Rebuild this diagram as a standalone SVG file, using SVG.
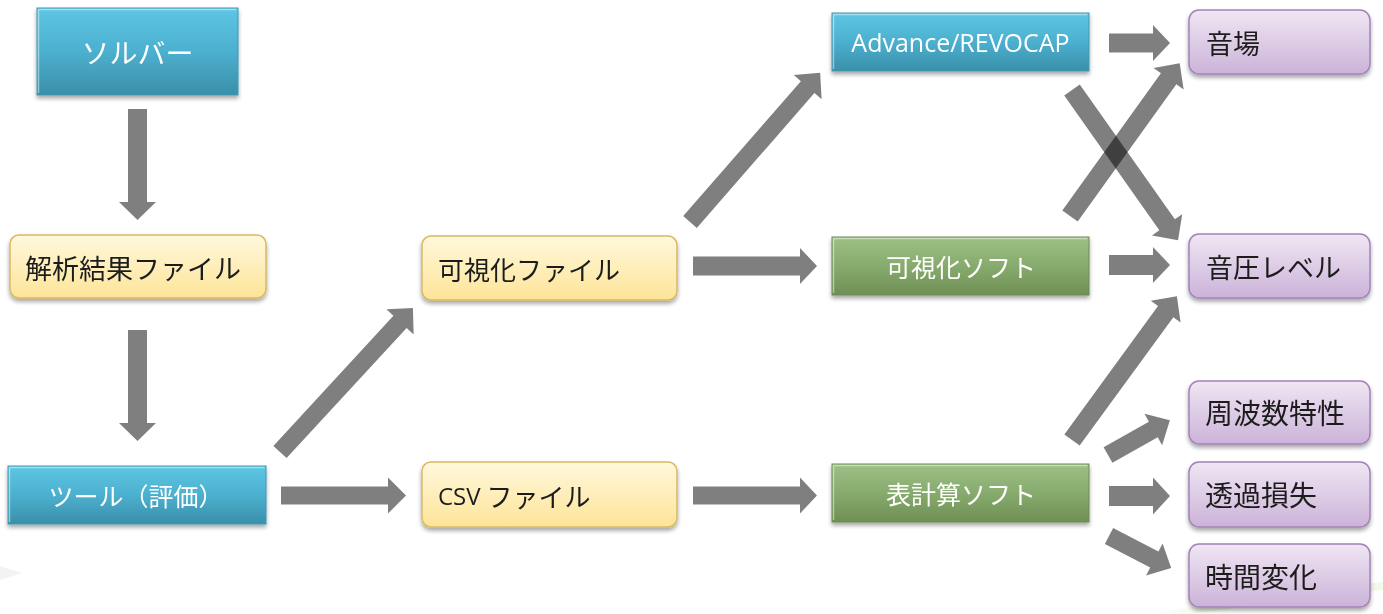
<svg xmlns="http://www.w3.org/2000/svg" width="1383" height="614" viewBox="0 0 1383 614">
<defs>
<linearGradient id="gBlue" x1="0" y1="0" x2="0" y2="1">
<stop offset="0" stop-color="#5dc6e3"/><stop offset="0.5" stop-color="#4cb0cf"/><stop offset="1" stop-color="#3a8fa9"/>
</linearGradient>
<linearGradient id="gGreen" x1="0" y1="0" x2="0" y2="1">
<stop offset="0" stop-color="#9dc185"/><stop offset="0.5" stop-color="#87ab6d"/><stop offset="1" stop-color="#6e8f55"/>
</linearGradient>
<linearGradient id="gYellow" x1="0" y1="0" x2="0" y2="1">
<stop offset="0" stop-color="#fff8dc"/><stop offset="1" stop-color="#fde498"/>
</linearGradient>
<linearGradient id="gPurple" x1="0" y1="0" x2="0" y2="1">
<stop offset="0" stop-color="#f0e6f3"/><stop offset="1" stop-color="#cbb3d9"/>
</linearGradient>
<linearGradient id="gSwoosh" x1="0" y1="0" x2="1" y2="0">
<stop offset="0" stop-color="#e6f4d8" stop-opacity="0"/><stop offset="0.5" stop-color="#dcefc9"/><stop offset="1" stop-color="#e8f5dc" stop-opacity="0.6"/>
</linearGradient>
<filter id="sh" x="-10%" y="-20%" width="120%" height="150%">
<feGaussianBlur in="SourceAlpha" stdDeviation="2"/>
<feOffset dx="0" dy="3" result="b"/>
<feComponentTransfer><feFuncA type="linear" slope="0.35"/></feComponentTransfer>
<feMerge><feMergeNode/><feMergeNode in="SourceGraphic"/></feMerge>
</filter>
</defs>
<style>
.blue{fill:url(#gBlue);stroke:#3f98b3;stroke-width:1}
.green{fill:url(#gGreen);stroke:#6a8c51;stroke-width:1}
.yellow{fill:url(#gYellow);stroke:#d8b964;stroke-width:1.5}
.purple{fill:url(#gPurple);stroke:#a283b8;stroke-width:1.5}
.hl{fill:none;stroke:#ffffff;stroke-opacity:0.45;stroke-width:1.5}
.tw{font-family:"Noto Sans CJK JP","Noto Sans",sans-serif;fill:#ffffff;text-anchor:middle;dominant-baseline:central}
.tk{font-family:"Noto Sans CJK JP","Noto Sans",sans-serif;fill:#1e1e1e;dominant-baseline:central}
.lat{font-family:"Open Sans","Noto Sans",sans-serif}
.arr{fill:#000000;fill-opacity:0.5}
</style>
<rect width="1383" height="614" fill="#ffffff"/>
<!-- faint background decoration -->
<path d="M0,566 L22,573 L0,580 Z" fill="#f3f3f3"/>
<path d="M1150,614 Q1260,596 1383,582 L1383,590 Q1270,603 1190,614 Z" fill="url(#gSwoosh)"/>

<g id="connectors">
<path class="arr" transform="translate(137.5,109) rotate(90)" d="M0,-9.5 H93 V-18.5 L111,0 L93,18.5 V9.5 H0 Z"/>
<path class="arr" transform="translate(137.5,330) rotate(90)" d="M0,-9.5 H93 V-18.5 L111,0 L93,18.5 V9.5 H0 Z"/>
<path class="arr" transform="translate(280,452) rotate(-47.3)" d="M0,-9 H177 V-18.5 L196,0 L177,18.5 V9 H0 Z"/>
<path class="arr" transform="translate(281,495.5)" d="M0,-9 H107 V-18 L125,0 L107,18 V9 H0 Z"/>
<path class="arr" transform="translate(693,266)" d="M0,-9.5 H107 V-18 L124,0 L107,18 V9.5 H0 Z"/>
<path class="arr" transform="translate(693,495.5)" d="M0,-9 H107 V-18 L124,0 L107,18 V9 H0 Z"/>
<path class="arr" transform="translate(690,222) rotate(-48.9)" d="M0,-9 H179 V-18.5 L198,0 L179,18.5 V9 H0 Z"/>
<path class="arr" transform="translate(1109,43)" d="M0,-9.5 H44 V-18 L61,0 L44,18 V9.5 H0 Z"/>
<path class="arr" transform="translate(1072,90) rotate(54.8)" d="M0,-9.5 H165 V-18.5 L184,0 L165,18.5 V9.5 H0 Z"/>
<path class="arr" transform="translate(1070,216) rotate(-54.3)" d="M0,-9.5 H169 V-18.5 L188,0 L169,18.5 V9.5 H0 Z"/>
<path class="arr" transform="translate(1109,265)" d="M0,-10 H44 V-18 L61,0 L44,18 V10 H0 Z"/>
<path class="arr" transform="translate(1072,440) rotate(-53.9)" d="M0,-9.5 H159 V-18.5 L178,0 L159,18.5 V9.5 H0 Z"/>
<path class="arr" transform="translate(1108,455) rotate(-29.4)" d="M0,-9 H52 V-18 L71,0 L52,18 V9 H0 Z"/>
<path class="arr" transform="translate(1109,496)" d="M0,-10 H44 V-18.5 L61,0 L44,18.5 V10 H0 Z"/>
<path class="arr" transform="translate(1109,536) rotate(27.3)" d="M0,-9 H51 V-18 L70,0 L51,18 V9 H0 Z"/>
</g>

<g id="n-solver" filter="url(#sh)">
<rect class="blue" x="37" y="8" width="201" height="87"/>
<path class="hl" d="M38.5,93 V9.5 H236.5"/>
<text class="tw" x="137.5" y="52" font-size="28">ソルバー</text>
</g>
<g id="n-analysis" filter="url(#sh)">
<rect class="yellow" x="10" y="235" width="256" height="63" rx="9"/>
<text class="tk" x="25" y="267" font-size="27">解析結果ファイル</text>
</g>
<g id="n-tool" filter="url(#sh)">
<rect class="blue" x="8" y="466" width="258" height="58"/>
<path class="hl" d="M9.5,522 V467.5 H264.5"/>
<text class="tw" x="136" y="495" font-size="25">ツール（評価）</text>
</g>
<g id="n-visfile" filter="url(#sh)">
<rect class="yellow" x="422" y="236" width="255" height="64" rx="9"/>
<text class="tk" x="438" y="268" font-size="26">可視化ファイル</text>
</g>
<g id="n-csv" filter="url(#sh)">
<rect class="yellow" x="422" y="462" width="255" height="65" rx="9"/>
<text class="tk" x="438" y="495" font-size="26"><tspan class="lat" font-size="24">CSV</tspan> ファイル</text>
</g>
<g id="n-advance" filter="url(#sh)">
<rect class="blue" x="832" y="13" width="257" height="58"/>
<path class="hl" d="M833.5,69 V14.5 H1087.5"/>
<text class="tw lat" x="960.5" y="42" font-size="25">Advance/REVOCAP</text>
</g>
<g id="n-vissoft" filter="url(#sh)">
<rect class="green" x="832" y="237" width="257" height="58"/>
<path class="hl" d="M833.5,293 V238.5 H1087.5"/>
<text class="tw" x="961" y="266" font-size="25">可視化ソフト</text>
</g>
<g id="n-sheet" filter="url(#sh)">
<rect class="green" x="832" y="464" width="257" height="58"/>
<path class="hl" d="M833.5,520 V465.5 H1087.5"/>
<text class="tw" x="961" y="493" font-size="25">表計算ソフト</text>
</g>
<g id="n-field" filter="url(#sh)">
<rect class="purple" x="1189" y="10" width="181" height="64" rx="10"/>
<text class="tk" x="1206" y="42" font-size="27">音場</text>
</g>
<g id="n-spl" filter="url(#sh)">
<rect class="purple" x="1189" y="234" width="181" height="64" rx="10"/>
<text class="tk" x="1206" y="266" font-size="27">音圧レベル</text>
</g>
<g id="n-freq" filter="url(#sh)">
<rect class="purple" x="1189" y="381" width="181" height="63" rx="10"/>
<text class="tk" x="1205" y="412" font-size="28">周波数特性</text>
</g>
<g id="n-tl" filter="url(#sh)">
<rect class="purple" x="1189" y="462" width="181" height="65" rx="10"/>
<text class="tk" x="1205" y="494" font-size="28">透過損失</text>
</g>
<g id="n-time" filter="url(#sh)">
<rect class="purple" x="1189" y="544" width="181" height="63" rx="10"/>
<text class="tk" x="1205" y="576" font-size="28">時間変化</text>
</g>
</svg>
